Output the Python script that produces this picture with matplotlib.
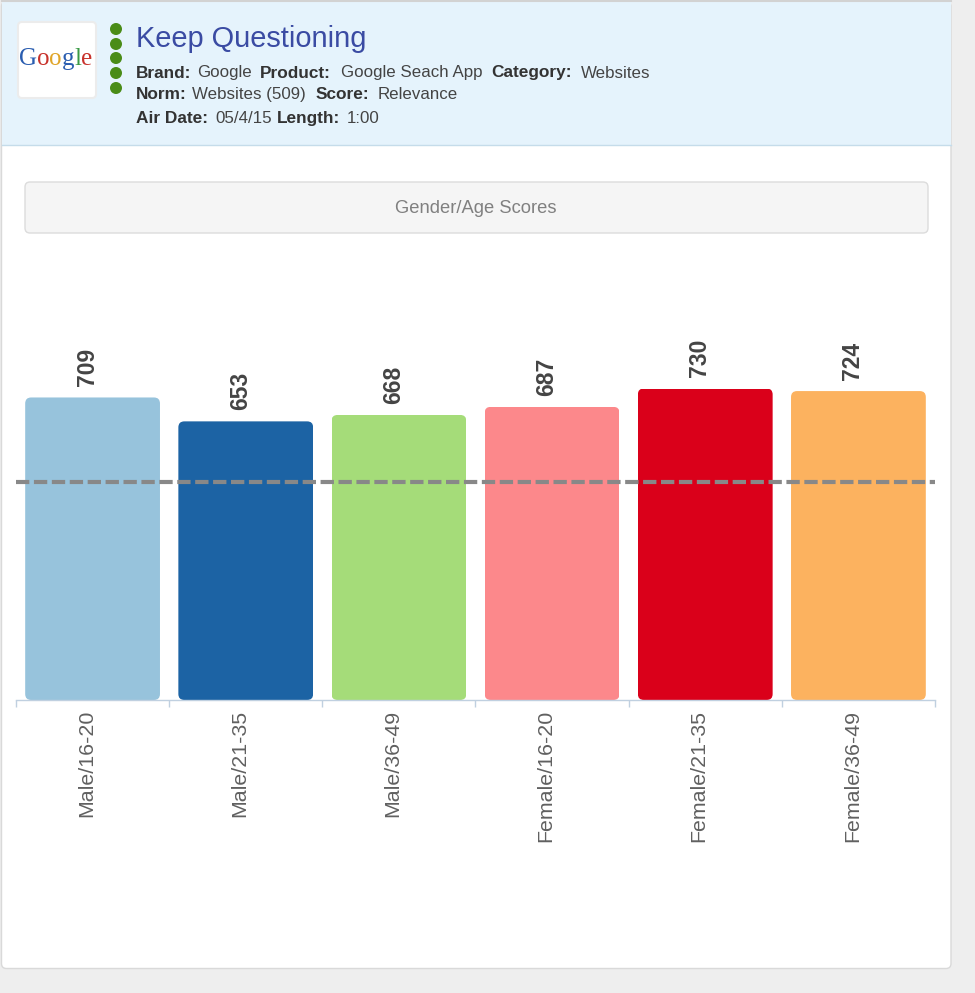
import matplotlib
matplotlib.use('Agg')
import matplotlib.pyplot as plt
from matplotlib.patches import FancyBboxPatch, Rectangle, Circle
from matplotlib.transforms import ScaledTranslation

plt.rcParams['font.family'] = ['Liberation Sans', 'DejaVu Sans']

groups = ['Male/16-20', 'Male/21-35', 'Male/36-49', 'Female/16-20', 'Female/21-35', 'Female/36-49']
scores = [709, 653, 668, 687, 730, 724]
bar_colors = ['#97c3dc', '#1c63a4', '#a5dc79', '#fc888b', '#da001a', '#fcb25f']
norm_score = 512

W, H = 975, 993
fig = plt.figure(figsize=(W / 100, H / 100), dpi=100, facecolor='#eeeeee')

# page furniture, drawn in pixel coordinates
bg = fig.add_axes([0, 0, 1, 1], zorder=0)
bg.set_xlim(0, W)
bg.set_ylim(H, 0)
bg.axis('off')

bg.add_patch(FancyBboxPatch((1.5, 1.5), 949.5, 967, boxstyle='round,pad=0,rounding_size=5',
                            fc='white', ec='#d9d9d9', lw=1))
bg.add_patch(Rectangle((1.5, 1), 949.5, 144, fc='#e5f3fc', ec='none'))
bg.plot([1.5, 951], [145, 145], color='#c5dcea', lw=1)
bg.plot([1.5, 951], [0.8, 0.8], color='#d2d2d2', lw=1.5)

# logo
bg.add_patch(FancyBboxPatch((18, 22), 78, 76, boxstyle='round,pad=0,rounding_size=4',
                            fc='white', ec='#ececec', lw=1.5))
logo_x = 19
for ch, col, adv in zip('Google', ['#2a5db0', '#c8322b', '#e0a528', '#2a5db0', '#3a9a45', '#c8322b'],
                        [18, 12.5, 12.5, 12.5, 7, 11]):
    bg.text(logo_x, 59, ch, color=col, fontsize=18, family='Liberation Serif', va='center', ha='left')
    logo_x += adv

# green dots
for y in [29, 44, 58, 73, 88]:
    bg.add_patch(Circle((116, y), 6, fc='#4a8c17', ec='none'))

bg.text(136, 39, 'Keep Questioning', color='#3a4ba3', fontsize=20.9, va='center')


def info(x, y, label, value_x, value):
    bg.text(x, y, label, color='#333333', fontsize=12.4, fontweight='bold', va='center')
    bg.text(value_x, y, value, color='#444444', fontsize=12.2, va='center')


info(136, 73, 'Brand:', 197, 'Google')
info(260, 73, 'Product:', 341, 'Google Seach App')
info(491, 73, 'Category:', 581, 'Websites')
info(136, 94.5, 'Norm:', 192, 'Websites (509)')
info(316, 94.5, 'Score:', 378, 'Relevance')
info(136, 118.5, 'Air Date:', 215, '05/4/15')
info(277, 118.5, 'Length:', 347, '1:00')

# section title panel
bg.add_patch(FancyBboxPatch((25, 182), 903, 51, boxstyle='round,pad=0,rounding_size=5',
                            fc='#f5f5f5', ec='#dcdcdc', lw=1))
bg.text(476, 208.5, 'Gender/Age Scores', color='#808080', fontsize=13.2, ha='center', va='center')

# the chart: x from 16 to 935 px, zero at 700 px, 0.4267 px per score point
y_max = 800
ax_h = y_max * 0.4267
ax = fig.add_axes([16 / W, (H - 700) / H, 919 / W, ax_h / H], zorder=1)
ax.patch.set_alpha(0)
ax.set_xlim(-0.5, len(scores) - 0.5)
ax.set_ylim(0, y_max)

bars = ax.bar(range(len(scores)), scores, width=0.88, color=bar_colors, linewidth=0, zorder=2)

# round the corners by clipping each bar to a rounded box
px_x = 919 / len(scores)
for bar in bars:
    clip = FancyBboxPatch((bar.get_x(), bar.get_y()), bar.get_width(), bar.get_height(),
                          boxstyle='round,pad=0,rounding_size=%f' % (6 / px_x),
                          mutation_aspect=px_x / 0.4267, transform=ax.transData)
    bar.set_clip_path(clip)

for i, s in enumerate(scores):
    ax.annotate(str(s), (i, s), xytext=(-4, 8), textcoords='offset points', rotation=90,
                ha='center', va='bottom', fontsize=16.5, fontweight='bold', color='#444444')

ax.axhline(norm_score, color='#888888', lw=3, dashes=(3.2, 1.1), zorder=3)

for side in ['top', 'left', 'right']:
    ax.spines[side].set_visible(False)
ax.spines['bottom'].set_color('#c0d0e0')
ax.spines['bottom'].set_linewidth(1)
ax.set_yticks([])
ax.set_xticks(range(len(groups)))
ax.set_xticklabels(groups, rotation=90, fontsize=15.4, color='#606060')
ax.set_xticks([i - 0.5 for i in range(len(groups) + 1)], minor=True)
ax.tick_params(axis='x', which='major', length=0, pad=7)
ax.tick_params(axis='x', which='minor', length=5, width=1, color='#c0d0e0')

# labels sit a little left of the bar centres
shift = ScaledTranslation(-6 / 100, 0, fig.dpi_scale_trans)
for lab in ax.get_xticklabels():
    lab.set_transform(lab.get_transform() + shift)

fig.savefig('out.png', dpi=100, facecolor=fig.get_facecolor())
